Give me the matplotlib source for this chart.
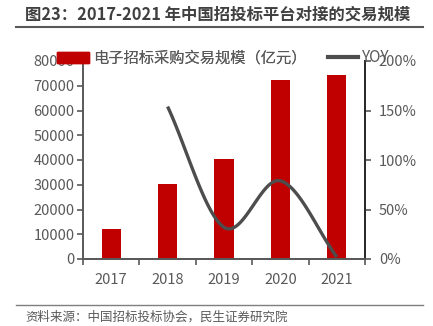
import numpy as np
import matplotlib
matplotlib.use("Agg")
import matplotlib.pyplot as plt
from matplotlib.lines import Line2D
from matplotlib.patches import Patch

plt.rcParams['font.family'] = ['Noto Sans CJK SC', 'DejaVu Sans']

years = ['2017', '2018', '2019', '2020', '2021']
volume = [12000, 30500, 40400, 72300, 74300]          # 亿元
yoy = [None, 1.54, 0.32, 0.79, 0.02]                   # 同比

TEXT = '#595959'
AXIS = '#595959'
BAR = '#C00000'
LINE = '#4D4D4D'


def catmull_rom(xs, ys, n=40):
    """Smooth curve through the given points (Excel-style smoothed line)."""
    xs = np.asarray(xs, float)
    ys = np.asarray(ys, float)
    px = np.concatenate([[2 * xs[0] - xs[1]], xs, [2 * xs[-1] - xs[-2]]])
    py = np.concatenate([[2 * ys[0] - ys[1]], ys, [2 * ys[-1] - ys[-2]]])
    ox, oy = [], []
    for i in range(1, len(px) - 2):
        t = np.linspace(0, 1, n)
        for p, out in ((px, ox), (py, oy)):
            p0, p1, p2, p3 = p[i - 1], p[i], p[i + 1], p[i + 2]
            out.extend(0.5 * ((2 * p1) + (-p0 + p2) * t +
                              (2 * p0 - 5 * p1 + 4 * p2 - p3) * t ** 2 +
                              (-p0 + 3 * p1 - 3 * p2 + p3) * t ** 3))
    return np.array(ox), np.array(oy)


fig = plt.figure(figsize=(4.33, 3.26), dpi=100)
ax = fig.add_axes([83 / 433, 1 - 259 / 326, 282 / 433, 198 / 326])
ax2 = ax.twinx()

x = np.arange(len(years))
ax.bar(x, volume, width=0.34, color=BAR, zorder=2)
ax.set_xlim(-0.5, len(years) - 0.5)
ax.set_ylim(0, 80000)
ax.set_yticks(np.arange(0, 80001, 10000))
ax.set_xticks(x)
ax.set_xticklabels(years)
ax.set_xticks(np.arange(-0.5, len(years), 1), minor=True)
ax.tick_params(axis='x', which='major', length=0, pad=10, labelsize=10.5, labelcolor=TEXT)
ax.tick_params(axis='x', which='minor', length=4, width=1.2, color=AXIS, direction='out')
ax.tick_params(axis='y', length=4, width=1.2, color=AXIS, labelsize=10.5, labelcolor=TEXT, pad=2)

xi = [i for i, v in enumerate(yoy) if v is not None]
yi = [v for v in yoy if v is not None]
sx, sy = catmull_rom(xi, yi)
ax2.plot(sx, sy, color=LINE, lw=2.4, solid_capstyle='butt', zorder=3)
ax2.set_ylim(0, 2.0)
ax2.set_yticks([0, 0.5, 1.0, 1.5, 2.0])
ax2.set_yticklabels(['0%', '50%', '100%', '150%', '200%'])
ax2.tick_params(axis='y', length=4, width=1.2, color=AXIS, labelsize=10.5, labelcolor=TEXT, pad=6)

for a in (ax, ax2):
    a.spines['top'].set_visible(False)
    a.spines['bottom'].set_color(AXIS)
    a.spines['bottom'].set_linewidth(1.4)
ax.spines['right'].set_visible(False)
ax.spines['left'].set_color(AXIS)
ax.spines['left'].set_linewidth(1.4)
ax2.spines['left'].set_visible(False)
ax2.spines['right'].set_color('#262626')
ax2.spines['right'].set_linewidth(1.4)

legend_kw = dict(loc='center left', frameon=False, fontsize=11, labelcolor=TEXT,
                 handleheight=0.75, handletextpad=0.28, borderaxespad=0, borderpad=0)
leg1 = fig.legend([Patch(color=BAR)], ['电子招标采购交易规模（亿元）'],
                  bbox_to_anchor=(57 / 433, 1 - 58 / 326), handlelength=2.1, **legend_kw)
fig.add_artist(leg1)
fig.legend([Line2D([0], [0], color=LINE, lw=3)], ['YOY'],
           bbox_to_anchor=(328 / 433, 1 - 58 / 326), handlelength=1.95, **legend_kw)

fig.text(25 / 433, 1 - 15 / 326, '图23：2017-2021 年中国招投标平台对接的交易规模',
         fontsize=11.8, fontweight='bold', color='#404040', va='center', ha='left')
fig.add_artist(Line2D([16 / 433, 423 / 433], [1 - 27 / 326] * 2, color='#595959', lw=1.5))
fig.add_artist(Line2D([16 / 433, 423 / 433], [1 - 305 / 326] * 2, color='#7F7F7F', lw=1.0))
fig.text(25 / 433, 1 - 317 / 326, '资料来源：中国招标投标协会，民生证券研究院',
         fontsize=9, color='#595959', va='center', ha='left')

fig.savefig('out.png', dpi=100)
